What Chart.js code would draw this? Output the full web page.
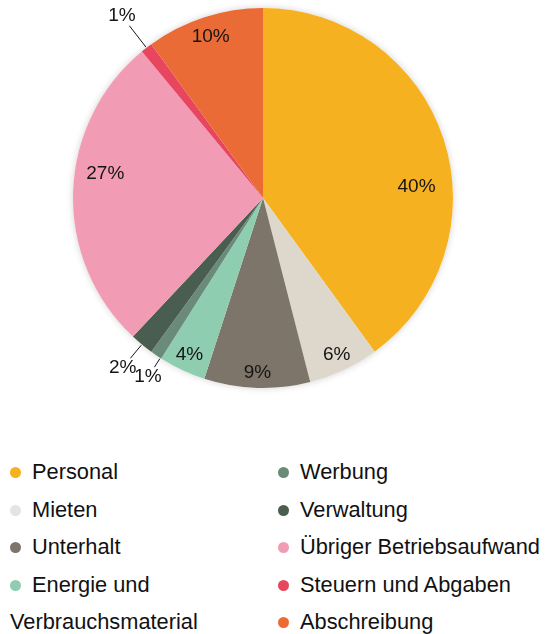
<!DOCTYPE html>
<html>
<head>
<meta charset="utf-8">
<script src="https://cdn.jsdelivr.net/npm/chart.js@4"></script>
<style>
  body { margin: 0; background: #fff; width: 548px; height: 634px; position: relative; overflow: hidden; font-family: "Liberation Sans", Arial, sans-serif; }
  .pie-chart { position: absolute; left: 0; top: 0; width: 548px; height: 410px; }
  .legend { position: absolute; top: 453px; font-size: 21.8px; line-height: 37.5px; color: #111; }
  .legend.left { left: 10px; width: 262px; }
  .legend.right { left: 278px; width: 270px; }
  .legend .dot { display: inline-block; width: 11px; height: 11px; border-radius: 50%; margin-right: 11px; vertical-align: 1px; }
</style>
</head>
<body>
<div class="pie-chart"><canvas id="pie"></canvas></div>
<div class="legend left" id="legendLeft"></div>
<div class="legend right" id="legendRight"></div>
<script>
const categories = ["Personal", "Mieten", "Unterhalt", "Energie und Verbrauchsmaterial", "Werbung", "Verwaltung", "Übriger Betriebsaufwand", "Steuern und Abgaben", "Abschreibung"];
const shares = [40, 6, 9, 4, 1, 2, 27, 1, 10];
const colors = ["#F6B121", "#DDD7CC", "#7D756A", "#8FCDB1", "#6A8B78", "#4A5E50", "#F29BB5", "#E8465F", "#EA6B35"];

// legend: first four on the left, rest on the right
categories.forEach((name, i) => {
  const item = document.createElement("div");
  const dot = document.createElement("span");
  dot.className = "dot";
  dot.style.background = i == 1 ? "#E6E3E0" : colors[i];
  item.appendChild(dot);
  item.appendChild(document.createTextNode(name));
  document.getElementById(i < 4 ? "legendLeft" : "legendRight").appendChild(item);
});

const halo = {
  id: "halo",
  beforeDatasetsDraw(chart) {
    const arc = chart.getDatasetMeta(0).data[0];
    if (!arc) return;
    const ctx = chart.ctx;
    ctx.save();
    ctx.shadowColor = "rgba(0,0,0,0.18)";
    ctx.shadowBlur = 7;
    ctx.fillStyle = "#fff";
    ctx.beginPath();
    ctx.arc(arc.x, arc.y, arc.outerRadius, 0, Math.PI * 2);
    ctx.fill();
    ctx.restore();
  },
};

const sliceLabels = {
  id: "sliceLabels",
  afterDatasetsDraw(chart, args, opts) {
    const ctx = chart.ctx;
    ctx.save();
    ctx.font = "19px 'Liberation Sans', Arial, sans-serif";
    ctx.fillStyle = "#151515";
    ctx.strokeStyle = "#151515";
    ctx.lineWidth = 1;
    ctx.textAlign = "center";
    ctx.textBaseline = "middle";
    chart.getDatasetMeta(0).data.forEach((arc, i) => {
      const v = shares[i];
      const R = arc.outerRadius;
      const mid = (arc.startAngle + arc.endAngle) / 2 + (opts.shift[i] || 0) * Math.PI / 180;
      const cos = Math.cos(mid), sin = Math.sin(mid);
      const text = v + "%";
      if (v < 3) {
        const out = opts.outside[i] || 30;
        ctx.beginPath();
        ctx.moveTo(arc.x + cos * (R + 1), arc.y + sin * (R + 1));
        ctx.lineTo(arc.x + cos * (R + out - 12), arc.y + sin * (R + out - 12));
        ctx.stroke();
        ctx.fillText(text, arc.x + cos * (R + out), arc.y + sin * (R + out));
      } else {
        const r = R * (opts.radius[i] || 0.91);
        ctx.fillText(text, arc.x + cos * r, arc.y + sin * r);
      }
    });
    ctx.restore();
  },
};

new Chart(document.getElementById("pie"), {
  type: "pie",
  data: {
    labels: categories,
    datasets: [
      {
        data: shares,
        backgroundColor: colors,
        borderWidth: 0,
        hoverOffset: 0,
      },
    ],
  },
  options: {
    responsive: true,
    maintainAspectRatio: false,
    animation: false,
    layout: { padding: { left: 73, right: 95, top: 8, bottom: 22 } },
    plugins: {
      legend: { display: false },
      tooltip: { enabled: false },
      sliceLabels: {
        shift: { 0: 14, 6: 7, 4: -1.5 },
        radius: { 0: 0.81, 6: 0.84, 8: 0.89, 2: 0.92 },
        outside: { 4: 23, 5: 30, 7: 40 },
      },
    },
  },
  plugins: [halo, sliceLabels],
});
</script>
</body>
</html>
